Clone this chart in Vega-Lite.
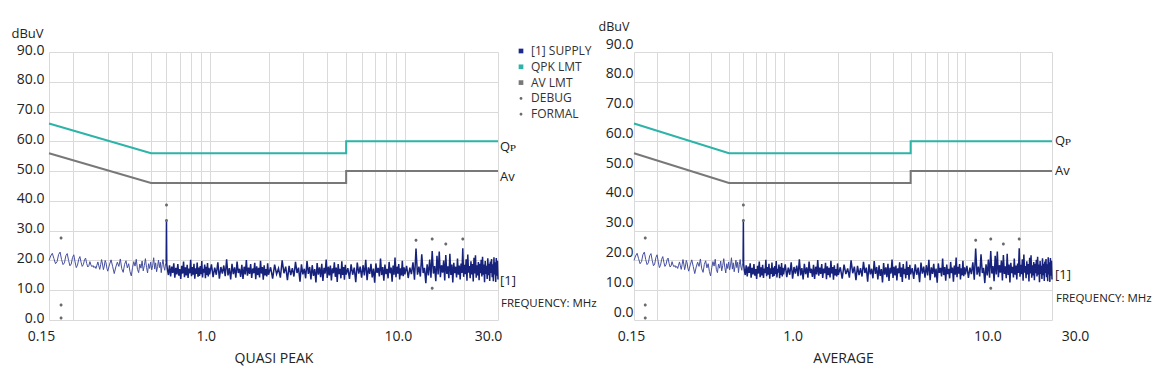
{
"$schema": "https://vega.github.io/schema/vega-lite/v6.json",
"background": "white",
"padding": {"left": 11, "top": 20, "right": 4, "bottom": 4},
"config": {
  "font": "Open Sans",
  "view": {"stroke": null},
  "axis": {"labelFont": "Open Sans", "labelFontSize": 14, "labelColor": "#222222", "titleFont": "Open Sans", "titleFontSize": 14, "titleFontWeight": "normal", "titleColor": "#222222", "gridColor": "#dadada", "gridWidth": 1, "gridOpacity": 1, "ticks": false, "domain": false},
  "text": {"font": "Open Sans", "color": "#222222"}
},
"datasets": {
  "limits": [
    {"f": 0.15, "v": 66, "s": "QPK LMT"}, {"f": 0.5, "v": 56, "s": "QPK LMT"}, {"f": 5, "v": 56, "s": "QPK LMT"}, {"f": 5, "v": 60, "s": "QPK LMT"}, {"f": 30, "v": 60, "s": "QPK LMT"},
    {"f": 0.15, "v": 56, "s": "AV LMT"}, {"f": 0.5, "v": 46, "s": "AV LMT"}, {"f": 5, "v": 46, "s": "AV LMT"}, {"f": 5, "v": 50, "s": "AV LMT"}, {"f": 30, "v": 50, "s": "AV LMT"}
  ],
  "dots": [
    {"f": 0.173, "v": 27.5, "s": "DEBUG"}, {"f": 0.173, "v": 5.0, "s": "FORMAL"}, {"f": 0.173, "v": 0.7, "s": "FORMAL"},
    {"f": 0.6, "v": 38.6, "s": "DEBUG"}, {"f": 0.6, "v": 33.4, "s": "FORMAL"},
    {"f": 11.4, "v": 26.8, "s": "DEBUG"}, {"f": 13.8, "v": 27.2, "s": "DEBUG"}, {"f": 16.2, "v": 25.5, "s": "DEBUG"}, {"f": 19.8, "v": 27.2, "s": "DEBUG"}, {"f": 13.8, "v": 10.7, "s": "FORMAL"}
  ],
  "notes": [
    {"f": 30, "v": 60, "t": "Qᴘ"}, {"f": 30, "v": 50, "t": "Av"}, {"f": 30, "v": 15, "t": "[1]"}, {"f": 30, "v": 7, "t": "FREQUENCY: MHz"}
  ],
  "supply": [
    {"f":0.150,"v":20.0},{"f":0.153,"v":21.5},{"f":0.156,"v":22.4},{"f":0.159,"v":20.6},{"f":0.162,"v":18.9},{"f":0.165,"v":19.6},{"f":0.168,"v":22.0},{"f":0.171,"v":22.8},{"f":0.174,"v":20.3},{"f":0.177,"v":18.6},
    {"f":0.180,"v":19.2},{"f":0.183,"v":21.6},{"f":0.186,"v":22.3},{"f":0.189,"v":20.0},{"f":0.192,"v":18.2},{"f":0.195,"v":18.8},{"f":0.198,"v":21.0},{"f":0.201,"v":21.9},{"f":0.204,"v":19.5},{"f":0.207,"v":17.6},
    {"f":0.210,"v":18.4},{"f":0.213,"v":20.4},{"f":0.216,"v":21.3},{"f":0.219,"v":19.4},{"f":0.222,"v":18.0},{"f":0.225,"v":18.6},{"f":0.228,"v":20.2},{"f":0.231,"v":20.8},{"f":0.234,"v":19.0},{"f":0.237,"v":17.8},
    {"f":0.240,"v":18.2},{"f":0.243,"v":19.6},{"f":0.246,"v":18.5},{"f":0.249,"v":17.9},{"f":0.252,"v":18.3},{"f":0.255,"v":17.6},{"f":0.258,"v":18.0},{"f":0.261,"v":17.3},{"f":0.264,"v":18.4},{"f":0.267,"v":19.5},
    {"f":0.270,"v":18.2},{"f":0.273,"v":17.0},{"f":0.276,"v":18.6},{"f":0.279,"v":20.3},{"f":0.282,"v":18.8},{"f":0.285,"v":16.9},{"f":0.288,"v":18.1},{"f":0.291,"v":20.0},{"f":0.294,"v":19.2},{"f":0.297,"v":17.4},
    {"f":0.300,"v":16.4},
    {"f":0.306,"v":18.5},{"f":0.312,"v":20.2},{"f":0.318,"v":17.9},{"f":0.324,"v":15.6},{"f":0.330,"v":17.8},{"f":0.336,"v":19.4},{"f":0.342,"v":18.0},{"f":0.348,"v":20.5},{"f":0.354,"v":17.2},{"f":0.360,"v":16.0},
    {"f":0.366,"v":18.7},{"f":0.372,"v":19.9},{"f":0.378,"v":17.5},{"f":0.384,"v":18.9},{"f":0.390,"v":16.3},{"f":0.396,"v":14.8},{"f":0.402,"v":17.6},{"f":0.408,"v":19.6},{"f":0.414,"v":18.1},{"f":0.420,"v":20.4},
    {"f":0.426,"v":17.0},{"f":0.432,"v":15.9},{"f":0.438,"v":18.8},{"f":0.444,"v":17.4},{"f":0.450,"v":19.8},{"f":0.456,"v":16.5},{"f":0.462,"v":18.3},{"f":0.468,"v":20.6},{"f":0.474,"v":17.7},{"f":0.480,"v":15.8},
    {"f":0.486,"v":18.9},{"f":0.492,"v":17.3},{"f":0.498,"v":19.5},{"f":0.504,"v":16.8},{"f":0.510,"v":18.4},{"f":0.516,"v":20.9},{"f":0.522,"v":17.1},{"f":0.528,"v":19.2},{"f":0.534,"v":16.2},{"f":0.540,"v":18.0},
    {"f":0.546,"v":20.1},{"f":0.552,"v":17.6},{"f":0.558,"v":19.4},{"f":0.564,"v":15.9},{"f":0.570,"v":18.6},{"f":0.576,"v":20.3},{"f":0.582,"v":17.8},{"f":0.588,"v":16.7},{"f":0.594,"v":19.0},
    {"f":0.598,"v":19.5},{"f":0.600,"v":33.5},{"f":0.602,"v":18.8},
    {"f":0.606,"v":17.2},{"f":0.614,"v":15.1},{"f":0.622,"v":18.4},{"f":0.630,"v":14.6},{"f":0.638,"v":17.9},{"f":0.646,"v":15.8},{"f":0.654,"v":19.0},{"f":0.662,"v":14.2},{"f":0.670,"v":17.5},{"f":0.678,"v":15.3},
    {"f":0.686,"v":18.8},{"f":0.694,"v":14.9},{"f":0.702,"v":17.1},{"f":0.710,"v":13.8},{"f":0.718,"v":18.2},{"f":0.726,"v":15.6},{"f":0.734,"v":19.6},{"f":0.742,"v":14.4},{"f":0.750,"v":17.7},{"f":0.758,"v":15.0},
    {"f":0.766,"v":18.5},{"f":0.774,"v":14.1},{"f":0.782,"v":17.3},{"f":0.790,"v":15.7},{"f":0.798,"v":20.2},{"f":0.806,"v":14.7},{"f":0.814,"v":17.8},{"f":0.822,"v":15.2},{"f":0.830,"v":18.9},{"f":0.838,"v":13.9},
    {"f":0.846,"v":17.4},{"f":0.854,"v":15.5},{"f":0.862,"v":19.3},{"f":0.870,"v":14.5},{"f":0.878,"v":17.6},{"f":0.886,"v":14.8},{"f":0.894,"v":18.1},{"f":0.902,"v":15.4},{"f":0.910,"v":19.8},{"f":0.918,"v":14.3},
    {"f":0.926,"v":17.2},{"f":0.934,"v":15.9},{"f":0.942,"v":18.6},{"f":0.950,"v":14.0},{"f":0.958,"v":17.9},{"f":0.966,"v":15.1},{"f":0.974,"v":19.1},{"f":0.982,"v":14.6},{"f":0.990,"v":17.5},{"f":0.998,"v":15.3},
    {"f":1.02,"v":18.7},{"f":1.04,"v":14.4},{"f":1.06,"v":17.6},{"f":1.08,"v":15.2},{"f":1.10,"v":19.4},{"f":1.12,"v":13.9},{"f":1.14,"v":17.8},{"f":1.16,"v":15.6},{"f":1.18,"v":18.3},{"f":1.20,"v":14.7},
    {"f":1.22,"v":20.4},{"f":1.24,"v":15.0},{"f":1.26,"v":17.4},{"f":1.28,"v":13.6},{"f":1.30,"v":18.9},{"f":1.32,"v":15.4},{"f":1.34,"v":17.7},{"f":1.36,"v":14.2},{"f":1.38,"v":19.6},{"f":1.40,"v":15.8},
    {"f":1.42,"v":17.2},{"f":1.44,"v":14.5},{"f":1.46,"v":18.5},{"f":1.48,"v":13.8},{"f":1.50,"v":17.9},{"f":1.52,"v":15.3},{"f":1.54,"v":20.1},{"f":1.56,"v":14.9},{"f":1.58,"v":17.6},{"f":1.60,"v":15.5},
    {"f":1.62,"v":18.8},{"f":1.64,"v":14.1},{"f":1.66,"v":17.3},{"f":1.68,"v":15.7},{"f":1.70,"v":19.2},{"f":1.72,"v":13.7},{"f":1.74,"v":18.0},{"f":1.76,"v":15.1},{"f":1.78,"v":17.5},{"f":1.80,"v":14.3},
    {"f":1.82,"v":19.9},{"f":1.84,"v":15.6},{"f":1.86,"v":17.8},{"f":1.88,"v":13.5},{"f":1.90,"v":18.4},{"f":1.92,"v":15.0},{"f":1.94,"v":17.1},{"f":1.96,"v":14.6},{"f":1.98,"v":19.0},{"f":2.00,"v":15.2},
    {"f":2.05,"v":17.7},{"f":2.10,"v":13.9},{"f":2.15,"v":18.6},{"f":2.20,"v":15.4},{"f":2.25,"v":17.3},{"f":2.30,"v":14.2},{"f":2.35,"v":20.0},{"f":2.40,"v":15.7},{"f":2.45,"v":17.9},{"f":2.50,"v":13.4},
    {"f":2.55,"v":18.2},{"f":2.60,"v":15.1},{"f":2.65,"v":17.4},{"f":2.70,"v":14.6},{"f":2.75,"v":19.5},{"f":2.80,"v":15.8},{"f":2.85,"v":17.6},{"f":2.90,"v":12.9},{"f":2.95,"v":18.7},{"f":3.00,"v":15.3},
    {"f":3.05,"v":17.2},{"f":3.10,"v":14.0},{"f":3.15,"v":19.8},{"f":3.20,"v":15.5},{"f":3.25,"v":17.8},{"f":3.30,"v":13.6},{"f":3.35,"v":18.4},{"f":3.40,"v":14.8},{"f":3.45,"v":17.1},{"f":3.50,"v":12.6},
    {"f":3.55,"v":19.1},{"f":3.60,"v":15.2},{"f":3.65,"v":17.7},{"f":3.70,"v":14.4},{"f":3.75,"v":18.9},{"f":3.80,"v":13.1},{"f":3.85,"v":17.5},{"f":3.90,"v":15.6},{"f":3.95,"v":20.3},{"f":4.00,"v":14.1},
    {"f":4.05,"v":17.9},{"f":4.10,"v":15.0},{"f":4.15,"v":18.3},{"f":4.20,"v":13.3},{"f":4.25,"v":17.4},{"f":4.30,"v":15.7},{"f":4.35,"v":19.4},{"f":4.40,"v":14.5},{"f":4.45,"v":17.6},{"f":4.50,"v":12.8},
    {"f":4.55,"v":18.8},{"f":4.60,"v":15.4},{"f":4.65,"v":17.2},{"f":4.70,"v":14.0},{"f":4.75,"v":19.7},{"f":4.80,"v":15.1},{"f":4.85,"v":17.8},{"f":4.90,"v":13.5},{"f":4.95,"v":18.5},{"f":5.00,"v":15.3},
    {"f":5.1,"v":17.4},{"f":5.2,"v":13.8},{"f":5.3,"v":18.7},{"f":5.4,"v":15.2},{"f":5.5,"v":17.6},{"f":5.6,"v":12.7},{"f":5.7,"v":19.3},{"f":5.8,"v":15.6},{"f":5.9,"v":17.9},{"f":6.0,"v":14.2},
    {"f":6.1,"v":18.4},{"f":6.2,"v":15.0},{"f":6.3,"v":20.2},{"f":6.4,"v":13.4},{"f":6.5,"v":17.7},{"f":6.6,"v":15.5},{"f":6.7,"v":18.9},{"f":6.8,"v":14.3},{"f":6.9,"v":17.3},{"f":7.0,"v":12.5},
    {"f":7.1,"v":19.0},{"f":7.2,"v":15.8},{"f":7.3,"v":17.5},{"f":7.4,"v":14.6},{"f":7.5,"v":20.6},{"f":7.6,"v":15.1},{"f":7.7,"v":17.8},{"f":7.8,"v":13.2},{"f":7.9,"v":18.6},{"f":8.0,"v":15.4},
    {"f":8.1,"v":17.2},{"f":8.2,"v":14.0},{"f":8.3,"v":19.5},{"f":8.4,"v":15.7},{"f":8.5,"v":17.6},{"f":8.6,"v":12.9},{"f":8.7,"v":18.3},{"f":8.8,"v":15.2},{"f":8.9,"v":21.0},{"f":9.0,"v":14.4},
    {"f":9.1,"v":17.9},{"f":9.2,"v":15.6},{"f":9.3,"v":18.8},{"f":9.4,"v":13.6},{"f":9.5,"v":17.4},{"f":9.6,"v":15.0},{"f":9.7,"v":19.9},{"f":9.8,"v":14.7},{"f":9.9,"v":17.7},{"f":10.0,"v":15.3},
    {"f":10.2,"v":18.2},{"f":10.4,"v":14.1},{"f":10.6,"v":17.6},{"f":10.8,"v":15.4},{"f":11.0,"v":19.4},{"f":11.2,"v":13.5},{"f":11.4,"v":24.0},{"f":11.6,"v":15.2},{"f":11.8,"v":17.9},{"f":12.0,"v":14.6},
    {"f":12.2,"v":22.1},{"f":12.4,"v":15.8},{"f":12.6,"v":17.5},{"f":12.8,"v":12.4},{"f":13.0,"v":18.7},{"f":13.2,"v":15.0},{"f":13.4,"v":20.3},{"f":13.6,"v":14.2},{"f":13.8,"v":23.2},{"f":14.0,"v":15.6},
    {"f":14.2,"v":18.1},{"f":14.4,"v":13.0},{"f":14.6,"v":21.6},{"f":14.8,"v":15.3},{"f":15.0,"v":23.0},{"f":15.2,"v":14.4},{"f":15.4,"v":18.4},{"f":15.6,"v":15.9},{"f":15.8,"v":20.0},{"f":16.0,"v":13.3},
    {"f":16.2,"v":21.8},{"f":16.4,"v":15.5},{"f":16.6,"v":18.0},{"f":16.8,"v":14.0},{"f":17.0,"v":22.2},{"f":17.2,"v":15.1},{"f":17.4,"v":18.6},{"f":17.6,"v":12.6},{"f":17.8,"v":19.2},{"f":18.0,"v":15.7},
    {"f":18.2,"v":17.9},{"f":18.4,"v":14.3},{"f":18.6,"v":20.6},{"f":18.8,"v":15.2},{"f":19.0,"v":18.3},{"f":19.2,"v":13.6},{"f":19.4,"v":19.0},{"f":19.6,"v":15.8},{"f":19.8,"v":24.1},{"f":20.0,"v":14.5},
    {"f":20.2,"v":18.5},{"f":20.4,"v":15.4},{"f":20.6,"v":20.4},{"f":20.8,"v":13.2},{"f":21.0,"v":22.0},{"f":21.2,"v":15.9},{"f":21.4,"v":18.1},{"f":21.6,"v":14.0},{"f":21.8,"v":19.7},{"f":22.0,"v":15.3},
    {"f":22.2,"v":18.8},{"f":22.4,"v":12.9},{"f":22.6,"v":20.9},{"f":22.8,"v":15.6},{"f":23.0,"v":21.7},{"f":23.2,"v":14.2},{"f":23.4,"v":18.4},{"f":23.6,"v":15.0},{"f":23.8,"v":19.5},{"f":24.0,"v":13.4},
    {"f":24.2,"v":18.9},{"f":24.4,"v":15.7},{"f":24.6,"v":20.2},{"f":24.8,"v":14.6},{"f":25.0,"v":21.2},{"f":25.2,"v":15.2},{"f":25.4,"v":18.6},{"f":25.6,"v":12.7},{"f":25.8,"v":19.8},{"f":26.0,"v":15.5},
    {"f":26.2,"v":18.2},{"f":26.4,"v":13.8},{"f":26.6,"v":20.7},{"f":26.8,"v":15.0},{"f":27.0,"v":18.9},{"f":27.2,"v":13.1},{"f":27.4,"v":19.6},{"f":27.6,"v":15.8},{"f":27.8,"v":20.5},{"f":28.0,"v":14.4},
    {"f":28.2,"v":18.7},{"f":28.4,"v":13.0},{"f":28.6,"v":21.1},{"f":28.8,"v":15.3},{"f":29.0,"v":19.4},{"f":29.2,"v":12.8},{"f":29.4,"v":20.8},{"f":29.6,"v":14.9},{"f":29.8,"v":19.9},{"f":30.0,"v":13.6}
  ]
},
"resolve": {"scale": {"color": "independent", "shape": "independent"}},
"bounds": "flush",
"spacing": 136,
"hconcat": [
  {
    "width": 449, "height": 268,
    "encoding": {
      "x": {"field": "f", "type": "quantitative", "scale": {"type": "log", "domain": [0.15, 30], "nice": false},
        "axis": {"title": "QUASI PEAK", "values": [0.15,0.2,0.3,0.4,0.5,0.6,0.7,0.8,0.9,1,2,3,4,5,6,7,8,9,10,20,30],
          "labelExpr": "datum.value == 0.15 ? '0.15' : datum.value == 1 ? '1.0' : datum.value == 10 ? '10.0' : datum.value == 30 ? '30.0' : ''",
          "labelOffset": {"expr": "datum.value == 0.15 ? -8 : datum.value == 1 ? -4 : datum.value == 10 ? -7 : -10"},
          "labelOverlap": false, "labelFlush": false, "labelPadding": 9, "titlePadding": 8}},
      "y": {"field": "v", "type": "quantitative", "scale": {"domain": [0, 90], "nice": false},
        "axis": {"title": "dBuV", "values": [0,10,20,30,40,50,60,70,80,90], "format": ".1f", "titleAngle": 0, "titleAlign": "left", "titleBaseline": "middle", "titleX": -38, "titleY": -19, "titleFontSize": 13, "labelPadding": 5, "labelOffset": -2}}
    },
    "layer": [
      {"data": {"name": "limits"}, "transform": [{"filter": "datum.s == 'QPK LMT'"}], "mark": {"type": "line", "color": "#2db3a8", "strokeWidth": 2}, "encoding": {"order": {"value": null}}},
      {"data": {"name": "limits"}, "transform": [{"filter": "datum.s == 'AV LMT'"}], "mark": {"type": "line", "color": "#787878", "strokeWidth": 2}, "encoding": {"order": {"value": null}}},
      {"data": {"name": "supply"}, "transform": [{"filter": "datum.f <= 0.598"}], "mark": {"type": "line", "color": "#4650a0", "strokeWidth": 1}, "encoding": {}},
      {"data": {"name": "supply"}, "transform": [{"filter": "datum.f >= 0.598"}], "mark": {"type": "line", "color": "#16227c", "strokeWidth": 1.5}, "encoding": {}},
      {"data": {"name": "dots"}, "mark": {"type": "point", "filled": true, "size": 25, "opacity": 1},
        "encoding": {
          "color": {"field": "s", "type": "nominal", "scale": {"domain": ["[1] SUPPLY","QPK LMT","AV LMT","DEBUG","FORMAL"], "range": ["#1b2a88","#2db3a8","#787878","#6a6a6a","#6a6a6a"]},
            "legend": {"orient": "none", "legendX": 466, "legendY": -7, "title": null, "symbolSize": 22, "labelFontSize": 12, "labelFont": "Open Sans", "labelColor": "#333333", "rowPadding": 3.8, "labelOffset": 4, "padding": 0, "symbolStrokeWidth": 0}},
          "shape": {"field": "s", "type": "nominal", "scale": {"domain": ["[1] SUPPLY","QPK LMT","AV LMT","DEBUG","FORMAL"], "range": ["square","square","square","M-0.6,0A0.6,0.6 0 1,0 0.6,0A0.6,0.6 0 1,0 -0.6,0Z","M-0.6,0A0.6,0.6 0 1,0 0.6,0A0.6,0.6 0 1,0 -0.6,0Z"]},
            "legend": {"orient": "none", "legendX": 466, "legendY": -7, "title": null, "symbolSize": 22, "labelFontSize": 12, "labelFont": "Open Sans", "labelColor": "#333333", "rowPadding": 3.8, "labelOffset": 4, "padding": 0, "symbolStrokeWidth": 0}}
        }},
      {"data": {"name": "notes"}, "transform": [{"filter": "datum.t != 'FREQUENCY: MHz'"}], "mark": {"type": "text", "align": "left", "baseline": "middle", "dx": 2, "dy": 6, "fontSize": 13}, "encoding": {"text": {"field": "t"}}},
      {"data": {"name": "notes"}, "transform": [{"filter": "datum.t == 'FREQUENCY: MHz'"}], "mark": {"type": "text", "align": "left", "baseline": "middle", "dx": 3, "dy": 5, "fontSize": 11.5}, "encoding": {"text": {"field": "t"}}}
    ]
  },
  {
    "width": 418, "height": 268,
    "encoding": {
      "x": {"field": "f", "type": "quantitative", "scale": {"type": "log", "domain": [0.15, 30], "nice": false},
        "axis": {"title": "AVERAGE", "values": [0.15,0.2,0.3,0.4,0.5,0.6,0.7,0.8,0.9,1,2,3,4,5,6,7,8,9,10,20,30],
          "labelExpr": "datum.value == 0.15 ? '0.15' : datum.value == 1 ? '1.0' : datum.value == 10 ? '10.0' : datum.value == 30 ? '30.0' : ''",
          "labelOffset": {"expr": "datum.value == 0.15 ? -3 : datum.value == 1 ? 9 : datum.value == 10 ? 22 : 23"},
          "labelOverlap": false, "labelFlush": false, "labelPadding": 9, "titlePadding": 8}},
      "y": {"field": "v", "type": "quantitative", "scale": {"domain": [0, 90], "nice": false},
        "axis": {"title": "dBuV", "values": [0,10,20,30,40,50,60,70,80,90], "format": ".1f", "titleAngle": 0, "titleAlign": "left", "titleBaseline": "middle", "titleX": -36, "titleY": -26, "titleFontSize": 12.5, "labelPadding": 1, "labelOffset": -8}}
    },
    "layer": [
      {"data": {"name": "limits"}, "transform": [{"filter": "datum.s == 'QPK LMT'"}], "mark": {"type": "line", "color": "#2db3a8", "strokeWidth": 2}, "encoding": {"order": {"value": null}}},
      {"data": {"name": "limits"}, "transform": [{"filter": "datum.s == 'AV LMT'"}], "mark": {"type": "line", "color": "#787878", "strokeWidth": 2}, "encoding": {"order": {"value": null}}},
      {"data": {"name": "supply"}, "transform": [{"filter": "datum.f <= 0.598"}], "mark": {"type": "line", "color": "#4650a0", "strokeWidth": 1}, "encoding": {}},
      {"data": {"name": "supply"}, "transform": [{"filter": "datum.f >= 0.598"}], "mark": {"type": "line", "color": "#16227c", "strokeWidth": 1.5}, "encoding": {}},
      {"data": {"name": "dots"}, "mark": {"type": "point", "filled": true, "size": 25, "opacity": 1},
        "encoding": {
          "color": {"field": "s", "type": "nominal", "scale": {"domain": ["[1] SUPPLY","QPK LMT","AV LMT","DEBUG","FORMAL"], "range": ["#1b2a88","#2db3a8","#787878","#6a6a6a","#6a6a6a"]}, "legend": null},
          "shape": {"field": "s", "type": "nominal", "scale": {"domain": ["[1] SUPPLY","QPK LMT","AV LMT","DEBUG","FORMAL"], "range": ["square","square","square","M-0.6,0A0.6,0.6 0 1,0 0.6,0A0.6,0.6 0 1,0 -0.6,0Z","M-0.6,0A0.6,0.6 0 1,0 0.6,0A0.6,0.6 0 1,0 -0.6,0Z"]}, "legend": null}
        }},
      {"data": {"name": "notes"}, "transform": [{"filter": "datum.t != 'FREQUENCY: MHz'"}], "mark": {"type": "text", "align": "left", "baseline": "middle", "dx": 3, "dy": 0, "fontSize": 13}, "encoding": {"text": {"field": "t"}}},
      {"data": {"name": "notes"}, "transform": [{"filter": "datum.t == 'FREQUENCY: MHz'"}], "mark": {"type": "text", "align": "left", "baseline": "middle", "dx": 4, "dy": 0, "fontSize": 11.5}, "encoding": {"text": {"field": "t"}}}
    ]
  }
]
}
